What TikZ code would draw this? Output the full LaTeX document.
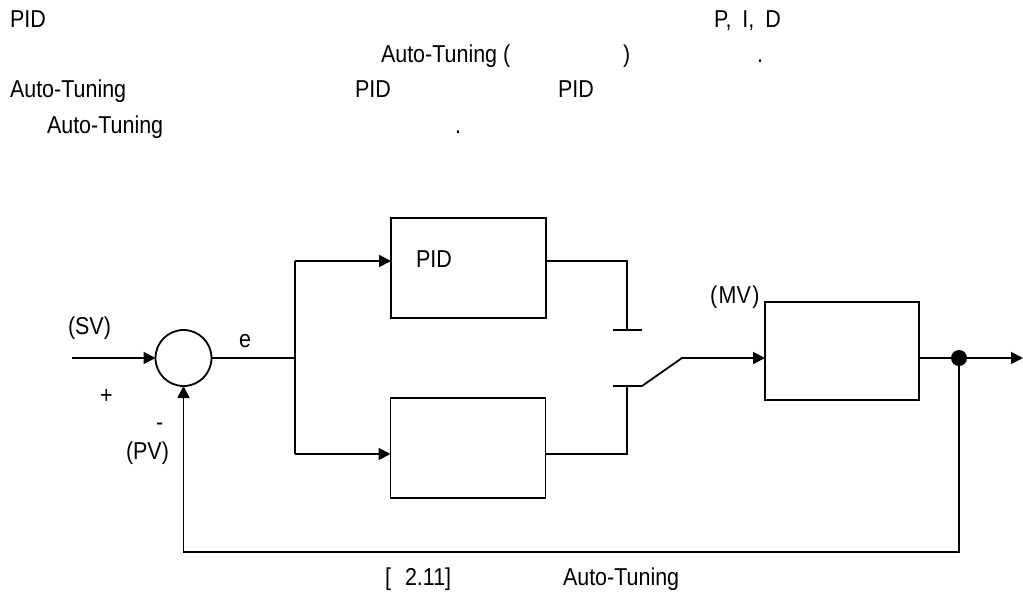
\documentclass[tikz,border=0pt]{standalone}
\usepackage{fontspec}
\setmainfont[FakeStretch=0.88]{Liberation Sans}
\usetikzlibrary{arrows.meta}
\begin{document}
\begin{tikzpicture}[x=1pt,y=-1pt,
  every node/.style={font=\fontsize{24.4pt}{29pt}\selectfont, inner sep=0pt, outer sep=0pt},
  txt/.style={anchor=base west},
  wire/.style={line width=1.8pt},
  arr/.style={wire, -{Triangle[length=12pt,width=12pt]}},
  blk/.style={draw, line width=1.8pt, minimum width=155pt, minimum height=100pt},
  sumc/.style={draw, line width=1.8pt, circle, minimum size=56pt},
  dotc/.style={fill, circle, minimum size=16pt}]
\useasboundingbox (0,0) rectangle (1023,603);
% body text
\node[txt] (t1a) at (10,27) {PID};
\node[txt] (t1b) at (714,27) {P,\hspace{5pt} I,\hspace{5pt} D};
\node[txt] (t2a) at (381,62) {Auto-Tuning (};
\node[txt] (t2b) at (623,62) {)};
\node[txt] (t2c) at (757,62) {.};
\node[txt] (t3a) at (10,97) {Auto-Tuning};
\node[txt] (t3b) at (355,97) {PID};
\node[txt] (t3c) at (558,97) {PID};
\node[txt] (t4a) at (47,133) {Auto-Tuning};
\node[txt] (t4b) at (455,133) {.};
% blocks
\node[sumc] (sum) at (183.5,358) {};
\node[blk] (pid) at (468.5,268) {};
\node[blk] (at) at (468,448) {};
\node[blk, minimum width=154pt, minimum height=98pt] (plant) at (842,351) {};
\node[dotc] (dot) at (959,358) {};
% labels
\node[txt] (lpid) at (416,267) {PID};
\node[txt] (lsv) at (68,334) {(SV)};
\node[txt] (le) at (239,347) {e};
\node[txt] (lplus) at (100,403) {+};
\node[txt] (lminus) at (156,430) {-};
\node[txt] (lpv) at (126,459) {(PV)};
\node[txt] (lmv) at (710,303) {(\kern1.5pt MV\kern1.5pt)};
% coordinates
\coordinate (in) at (72,358);
\coordinate (j) at (295,358);
\coordinate (jt) at (295,261);
\coordinate (jb) at (295,454);
\coordinate (c1) at (627,261);
\coordinate (c2) at (627,330);
\coordinate (b1l) at (613,330);
\coordinate (b1r) at (642,330);
\coordinate (c3) at (627,454);
\coordinate (c4) at (627,386);
\coordinate (b2l) at (613,386);
\coordinate (b2r) at (642,386);
\coordinate (sw) at (682,358);
\coordinate (out) at (1023,358);
\coordinate (fb) at (959,552);
\coordinate (fbl) at (183.5,552);
% connectors
\draw[arr] (in) -- (sum.west);
\draw[wire] (sum.east) -- (j);
\draw[wire] (jt) -- (jb);
\draw[arr] (jt) -- (pid.west |- jt);
\draw[arr] (jb) -- (at.west |- jb);
\draw[wire] (pid.east |- jt) -- (c1) -- (c2);
\draw[wire] (b1l) -- (b1r);
\draw[wire] (at.east |- c3) -- (c3) -- (c4);
\draw[wire] (b2l) -- (b2r);
\draw[arr] (b2r) -- (sw) -- (plant.west |- sw);
\draw[arr] (plant.east |- out) -- (out);
\draw[arr] (dot.center) -- (fb) -- (fbl) -- (sum.south);
% caption
\node[txt] (cap1) at (385,585) {[};
\node[txt] (cap2) at (405,585) {2.11]};
\node[txt] (cap3) at (563,585) {Auto-Tuning};
\end{tikzpicture}
\end{document}
